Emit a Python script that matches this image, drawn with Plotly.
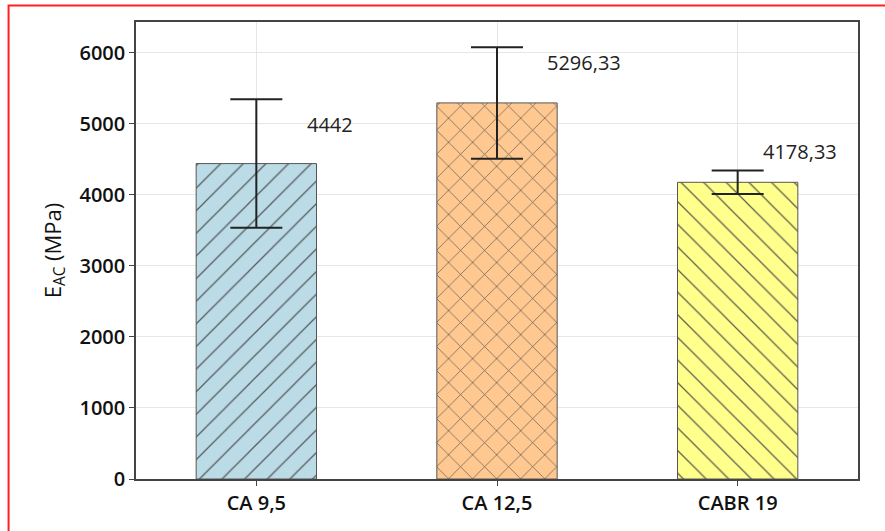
import plotly.graph_objects as go

# Elastic modulus per mix
categories = ["CA 9,5", "CA 12,5", "CABR 19"]
values = [4442, 5296.33, 4178.33]
errors = [905, 785, 165]
value_labels = ["4442", "5296,33", "4178,33"]

fill_colors = ["#BBDCE6", "#FFC890", "#FFFF8C"]
patterns = ["/", "x", "\\"]
pattern_sizes = [16, 17, 16]
label_xshift = [49, 48, 23]
label_yshift = [39, 40, 31]

FONT = "Open Sans, Noto Sans, DejaVu Sans, sans-serif"

fig = go.Figure()
fig.add_trace(go.Bar(
    x=categories,
    y=values,
    width=0.5,
    marker=dict(
        color=fill_colors,
        line=dict(color="#555555", width=1),
        pattern=dict(shape=patterns, fgcolor="#333333", fgopacity=0.85, size=pattern_sizes,
                     solidity=0.08, fillmode="overlay"),
    ),
    error_y=dict(type="data", array=errors, visible=True, color="#222222", thickness=2, width=26),
    showlegend=False,
))

for cat, val, txt, dx, dy in zip(categories, values, value_labels, label_xshift, label_yshift):
    fig.add_annotation(
        x=cat, y=val, text=txt, showarrow=False, xanchor="left", yanchor="middle",
        xshift=dx, yshift=dy, font=dict(family=FONT, size=20, color="#222222"),
    )

# outer red frame
fig.add_shape(type="rect", xref="paper", yref="paper",
              x0=-0.1765, x1=1.2, y0=-0.13, y1=1.036,
              line=dict(color="#FF2020", width=2), fillcolor="rgba(0,0,0,0)", layer="below")

fig.update_layout(
    width=885, height=531,
    margin=dict(l=136, r=27, t=22, b=52),
    plot_bgcolor="white", paper_bgcolor="white",
    font=dict(family=FONT, color="#111111"),
    xaxis=dict(
        range=[-0.5, 2.5], showgrid=True, gridcolor="#E6E6E6", gridwidth=1,
        showline=True, linecolor="#444444", linewidth=1.5, mirror=True,
        ticks="outside", ticklen=5, tickcolor="#444444",
        tickfont=dict(family=FONT, size=20, color="#111111", weight=600),
    ),
    yaxis=dict(
        range=[0, 6436], tickvals=[0, 1000, 2000, 3000, 4000, 5000, 6000],
        showgrid=True, gridcolor="#E6E6E6", gridwidth=1, zeroline=False,
        showline=True, linecolor="#444444", linewidth=1.5, mirror=True,
        ticks="outside", ticklen=5, tickcolor="#444444",
        tickfont=dict(family=FONT, size=20, color="#111111", weight=600),
        title=dict(text="E<sub>AC</sub> (MPa)", font=dict(family=FONT, size=22, color="#111111"), standoff=12),
    ),
)

fig.write_html("out.html")
